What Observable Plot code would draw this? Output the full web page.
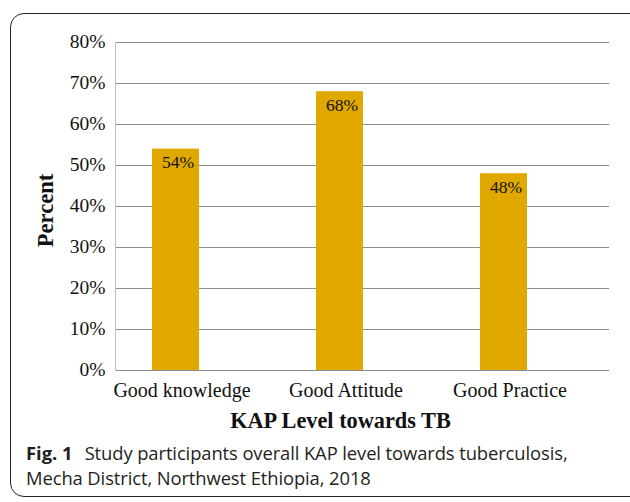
<!DOCTYPE html>
<html>
<head>
<meta charset="utf-8">
<script src="https://cdn.jsdelivr.net/npm/d3@7"></script>
<script src="https://cdn.jsdelivr.net/npm/@observablehq/plot@0.6"></script>
<style>
  html, body { margin: 0; padding: 0; background: #fff; width: 630px; height: 502px; overflow: hidden; }
  #box { position: absolute; left: 10px; top: 13px; width: 640px; height: 484px; border: 1.5px solid #222; border-radius: 14px; box-sizing: border-box; }
  #chart { position: absolute; left: 0; top: 0; }
  #caption { position: absolute; left: 26px; top: 439.5px; width: 600px; font-family: "Open Sans", sans-serif; font-size: 18.4px; letter-spacing: -0.1px; color: #231f20; white-space: nowrap; }
  #caption div { height: 25.2px; line-height: 25.2px; }
  #caption span.fig { font-weight: 700; margin-right: 12px; letter-spacing: 0; }
</style>
</head>
<body>
<div id="box"></div>
<div id="chart"></div>
<div id="caption"><div><span class="fig">Fig. 1</span>Study participants overall KAP level towards tuberculosis,</div><div>Mecha District, Northwest Ethiopia, 2018</div></div>
<script>
const categories = ["Good knowledge", "Good Attitude", "Good Practice"];
const values = [54, 68, 48];
const yTicks = [0, 10, 20, 30, 40, 50, 60, 70, 80];
const xTitle = "KAP Level towards TB";
const yTitle = "Percent";

const data = categories.map((c, i) => ({category: c, value: values[i]}));
const serif = "'Liberation Serif', 'Times New Roman', serif";

const chart = Plot.plot({
  width: 630,
  height: 440,
  marginLeft: 115,
  marginRight: 21,
  marginTop: 42,
  marginBottom: 70,
  style: {fontFamily: serif, fontSize: "19.5px", color: "#111", background: "transparent", overflow: "visible"},
  x: {domain: categories, range: [92.25, 585.75], paddingInner: 0.714, paddingOuter: 0.357},
  y: {domain: [0, 80], ticks: yTicks},
  marks: [
    Plot.gridY(yTicks, {stroke: "#8c8c8c", strokeOpacity: 1, strokeWidth: 1}),
    Plot.frame({anchor: "left", stroke: "#c0c0c0", strokeWidth: 1}),
    Plot.barY(data, {x: "category", y: "value", fill: "#e1a800"}),
    Plot.text(data, {x: "category", y: "value", text: d => d.value + "%", lineAnchor: "bottom", dy: 19, dx: 2, fontSize: 17.5, fill: "#111"}),
    Plot.axisY(yTicks, {tickSize: 0, tickPadding: 10, tickFormat: d => d + "%", label: null, fontSize: 19.5, dy: -1}),
    Plot.axisX({tickSize: 0, tickPadding: 12, label: null, dx: 6, fontSize: 20}),
    Plot.text([xTitle], {frameAnchor: "bottom", textAnchor: "middle", lineAnchor: "bottom", dy: 57, dx: -22, fontWeight: "bold", fontSize: 22.3, fill: "#111"}),
    Plot.text([yTitle], {frameAnchor: "left", textAnchor: "middle", rotate: -90, dx: -70, dy: 4, fontWeight: "bold", fontSize: 22.5, fill: "#111"})
  ]
});
document.getElementById("chart").appendChild(chart);
</script>
</body>
</html>
